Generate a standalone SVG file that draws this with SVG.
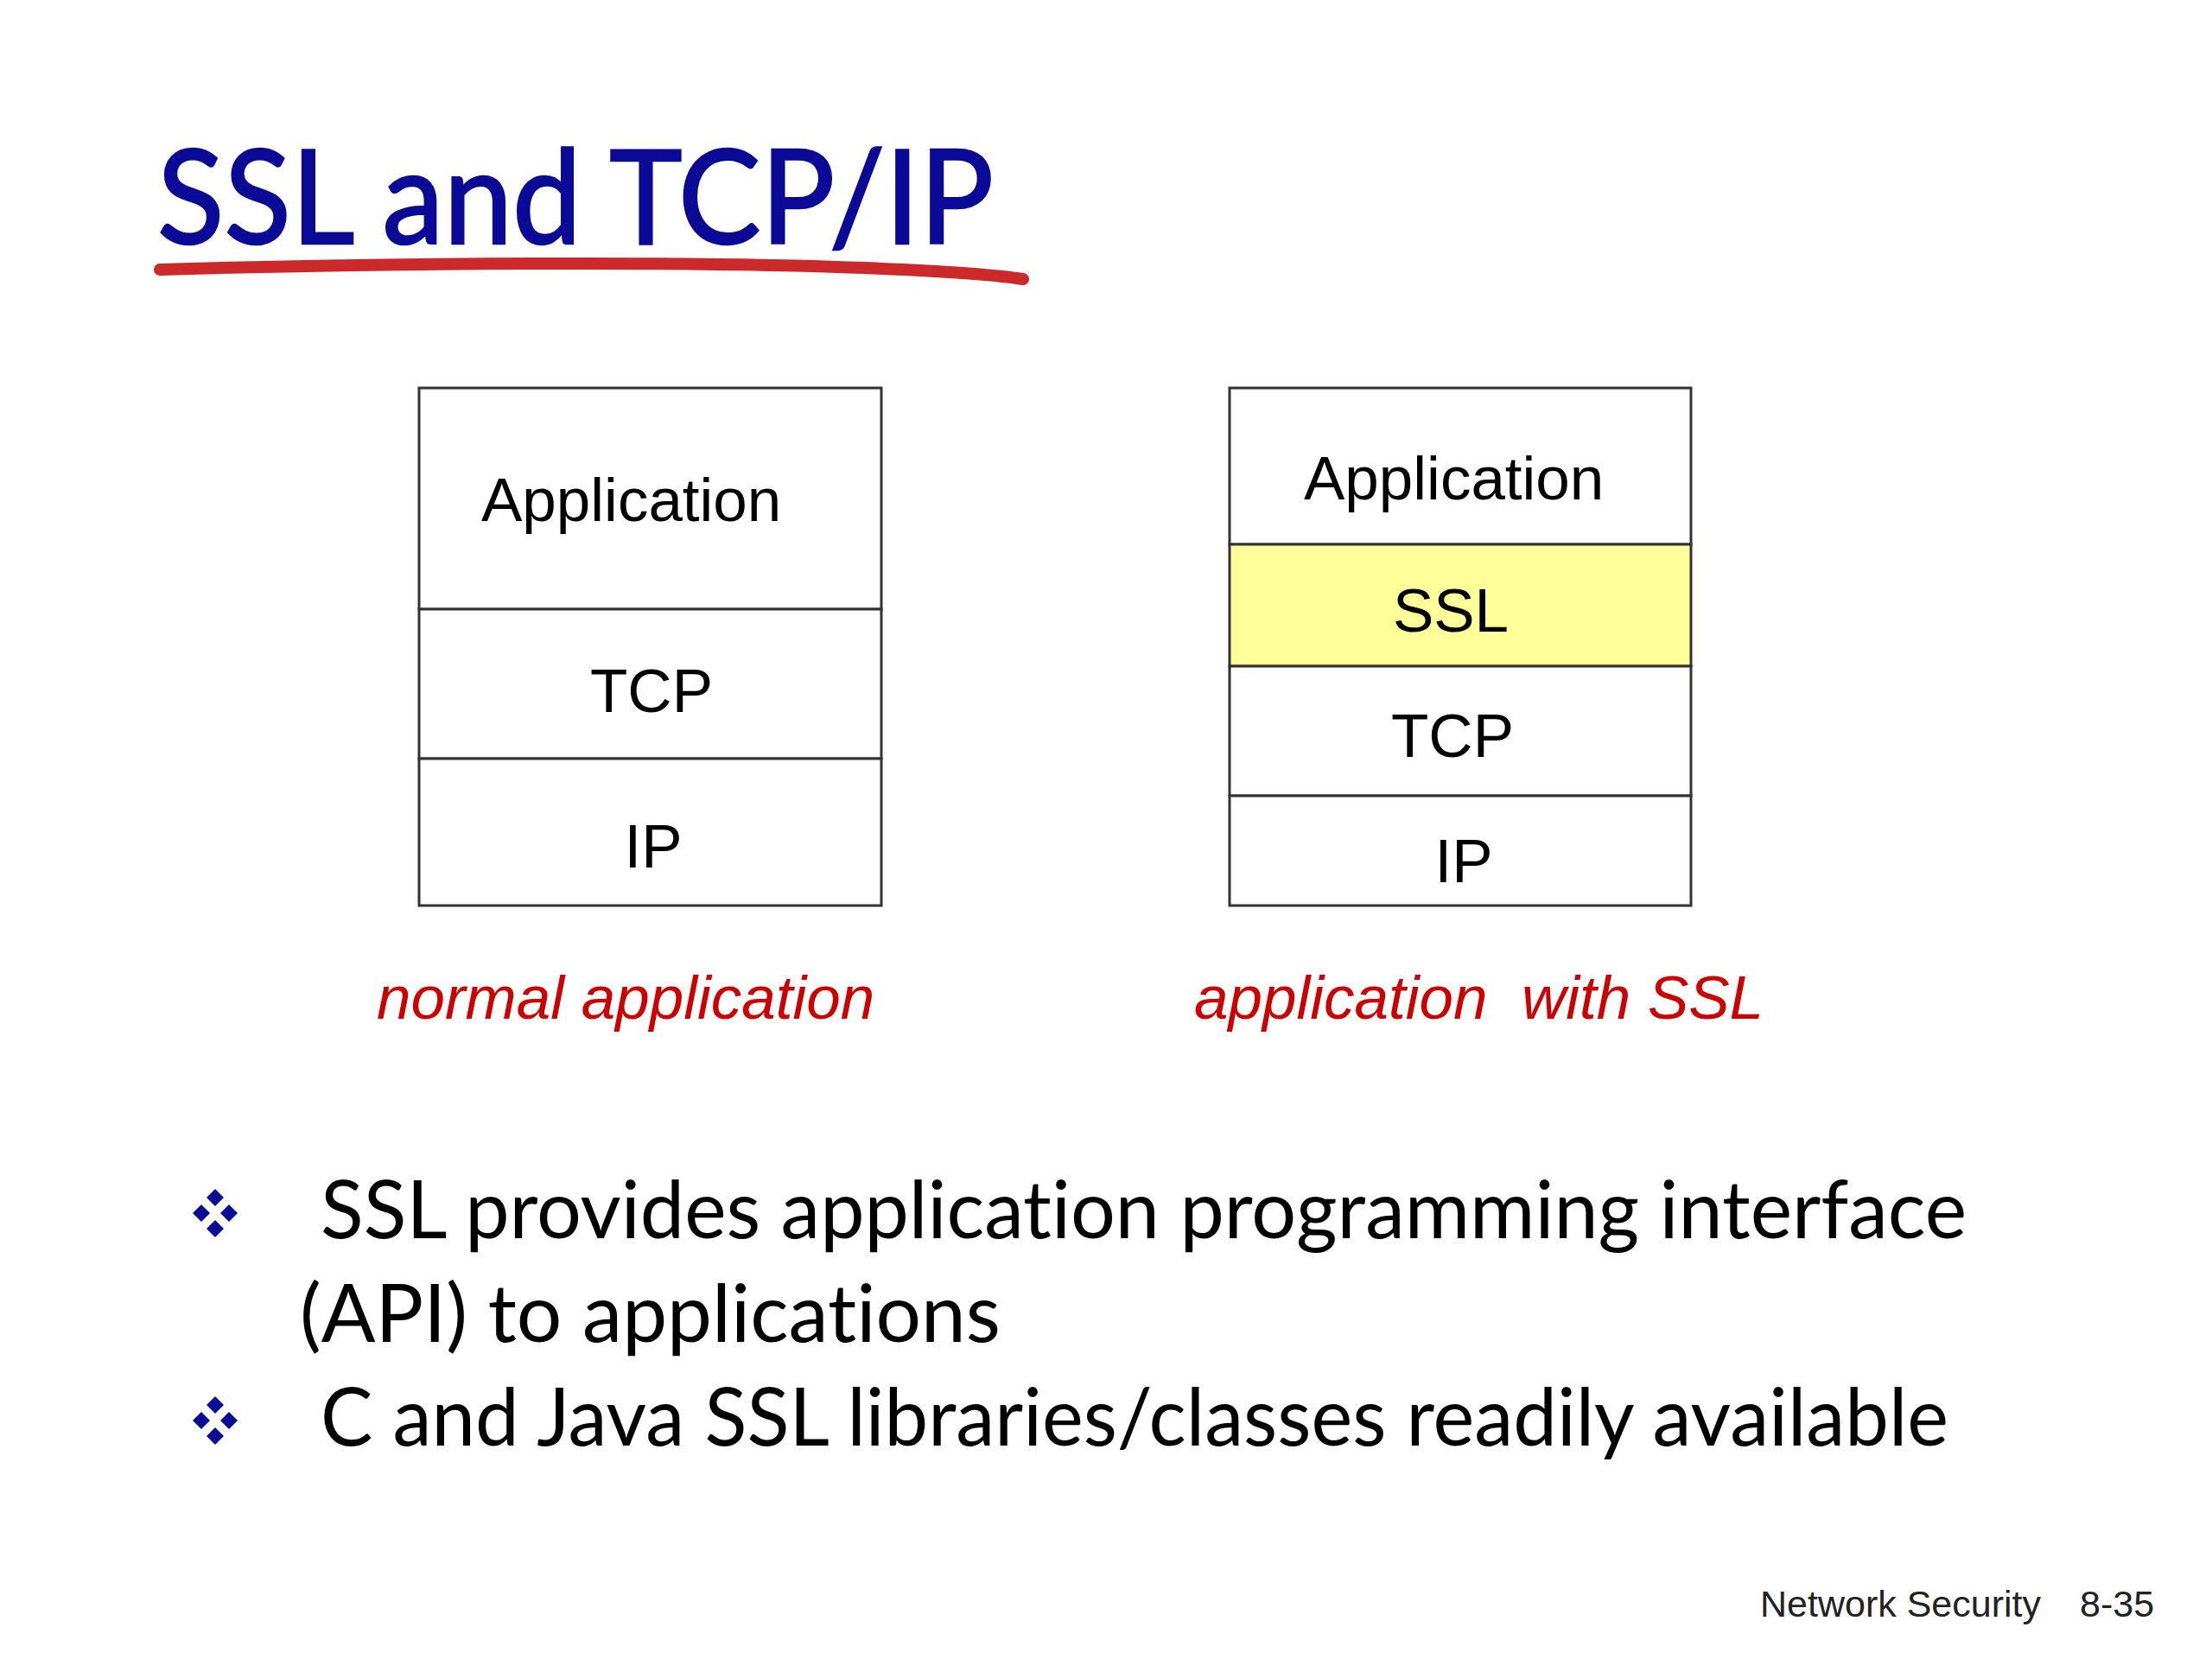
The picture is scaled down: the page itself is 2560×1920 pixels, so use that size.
<svg xmlns="http://www.w3.org/2000/svg" width="2560" height="1920" viewBox="0 0 2560 1920">
<style>
.box{fill:#ffffff;stroke:#333333;stroke-width:3}
.ssl{fill:#ffff99;stroke:#333333;stroke-width:3}
.lbl{font-family:"Liberation Sans",Arial,sans-serif;font-size:71px;fill:#000000}
.cap{font-family:"Liberation Sans",Arial,sans-serif;font-size:71px;font-style:italic;fill:#cc0000}
.title{font-family:Lato,"Open Sans",sans-serif;font-size:152px;fill:#0a0a96;stroke:#0a0a96;stroke-width:2.5;font-variant-ligatures:none}
.body{font-family:Lato,"Open Sans",sans-serif;font-size:94px;fill:#000000;font-variant-ligatures:none}
.foot{font-family:"Liberation Sans",Arial,sans-serif;font-size:43px;fill:#222222}
.bul{fill:#0a0a96}
</style>
<defs>
<g id="bullet">
<polygon points="0,-30 10,-20 0,-10 -10,-20"/>
<polygon points="-16,-12 -6,-2 -16,8 -26,-2"/>
<polygon points="16,-12 26,-2 16,8 6,-2"/>
<polygon points="0,6 10,16 0,26 -10,16"/>
</g>
</defs>
<rect width="2560" height="1920" fill="#ffffff"/>
<g id="title">
<text class="title" x="182" y="282" textLength="968" lengthAdjust="spacingAndGlyphs">SSL and TCP/IP</text>
<path d="M185,312 C450,304 800,302 1000,310 C1100,314 1160,319 1184,323" fill="none" stroke="#cc2a2a" stroke-width="14" stroke-linecap="round"/>
</g>
<g id="stack-normal">
<g id="n-app"><rect class="box" x="485" y="449" width="535" height="256"/><text class="lbl" x="557" y="603">Application</text></g>
<g id="n-tcp"><rect class="box" x="485" y="705" width="535" height="173"/><text class="lbl" x="754" y="824" text-anchor="middle">TCP</text></g>
<g id="n-ip"><rect class="box" x="485" y="878" width="535" height="170"/><text class="lbl" x="756" y="1004" text-anchor="middle">IP</text></g>
</g>
<g id="stack-ssl">
<g id="s-app"><rect class="box" x="1423" y="449" width="534" height="181"/><text class="lbl" x="1509" y="578">Application</text></g>
<g id="s-ssl"><rect class="ssl" x="1423" y="630" width="534" height="141"/><text class="lbl" x="1679" y="731" text-anchor="middle">SSL</text></g>
<g id="s-tcp"><rect class="box" x="1423" y="771" width="534" height="150"/><text class="lbl" x="1681" y="876" text-anchor="middle">TCP</text></g>
<g id="s-ip"><rect class="box" x="1423" y="921" width="534" height="127"/><text class="lbl" x="1694" y="1021" text-anchor="middle">IP</text></g>
</g>
<g id="captions">
<text class="cap" x="436" y="1179">normal application</text>
<text class="cap" x="1382" y="1179" xml:space="preserve">application  with SSL</text>
</g>
<g id="bullets">
<use href="#bullet" class="bul" x="249" y="1406"/>
<text class="body" x="371" y="1433" textLength="1905" lengthAdjust="spacingAndGlyphs">SSL provides application programming interface</text>
<text class="body" x="347" y="1553" textLength="811" lengthAdjust="spacingAndGlyphs">(API) to applications</text>
<use href="#bullet" class="bul" x="249" y="1646"/>
<text class="body" x="371" y="1673" textLength="1884" lengthAdjust="spacingAndGlyphs">C and Java SSL libraries/classes readily available</text>
</g>
<g id="footer">
<text class="foot" x="2037" y="1871">Network Security</text>
<text class="foot" x="2407" y="1871">8-35</text>
</g>
<g id="connectors"></g>
</svg>
